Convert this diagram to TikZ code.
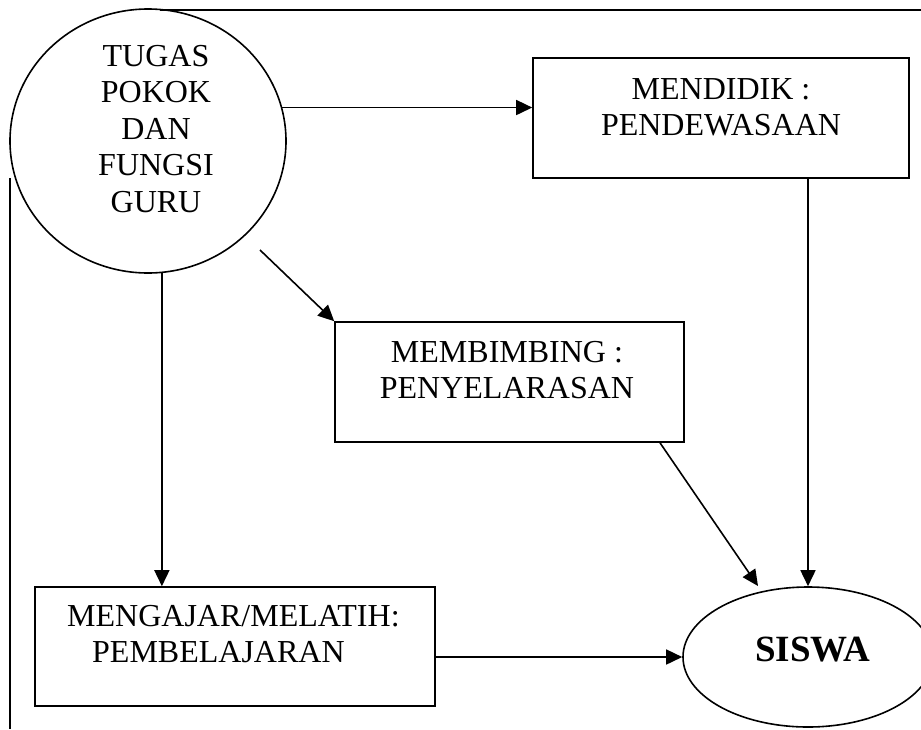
\documentclass[tikz,border=0pt]{standalone}
\usepackage{fontspec}
\setmainfont{Liberation Serif}
\usetikzlibrary{shapes.geometric,arrows.meta}
\begin{document}
\begin{tikzpicture}[x=1pt,y=-1pt,
  every node/.style={inner sep=0pt},
  ln/.style={line width=1.6pt},
  arr/.style={line width=1.6pt,-{Triangle[length=16pt,width=15pt]}},
  boxnode/.style={draw,line width=1.6pt,rectangle},
  ell/.style={draw,line width=1.6pt,ellipse},
  txt/.style={font=\fontsize{32}{36.5}\selectfont},
  bigtxt/.style={font=\fontsize{37}{40}\selectfont\bfseries}
]
\useasboundingbox (0,0) rectangle (921,729);

% frame lines
\draw[ln] (160,10) -- (921,10);
\draw[ln] (10,178) -- (10,729);

% shapes
\node[ell,minimum width=276pt,minimum height=264pt] (circ) at (148,141) {};
\node[boxnode,minimum width=376pt,minimum height=120pt] (mend) at (721,118) {};
\node[boxnode,minimum width=349pt,minimum height=120pt] (memb) at (509.5,382) {};
\node[boxnode,minimum width=400pt,minimum height=119pt] (meng) at (235,646.5) {};
\node[ell,minimum width=250pt,minimum height=140pt] (siswa) at (808,657) {};

% texts
\node[txt,align=center,anchor=north] (tcirc) at (156,45) {TUGAS\\POKOK\\DAN\\FUNGSI\\GURU};
\node[txt,align=center,anchor=north] (tmend) at (721,78) {MENDIDIK :\\PENDEWASAAN};
\node[txt,align=center,anchor=north] (tmemb) at (507,341) {MEMBIMBING :\\PENYELARASAN};
\node[txt,align=left,anchor=north west] (tmeng) at (67,605) {MENGAJAR/MELATIH:\\\hspace*{25pt}PEMBELAJARAN};
\node[bigtxt,anchor=base] (tsiswa) at (813,661) {SISWA};

% connectors
\coordinate (d0) at (260,250);
\coordinate (d1) at (758,586);
\draw[arr] (circ.14) -- (circ.14 -| mend.west);
\draw[arr] (circ.-84.4) -- (circ.-84.4 |- meng.north);
\draw[arr] (d0) -- (memb.north west);
\draw[arr] ([xshift=150.5pt]memb.south) -- (d1);
\draw[arr] ([xshift=87pt]mend.south) -- (siswa.north);
\draw[arr] (siswa.west -| meng.east) -- (siswa.west);
\end{tikzpicture}
\end{document}
